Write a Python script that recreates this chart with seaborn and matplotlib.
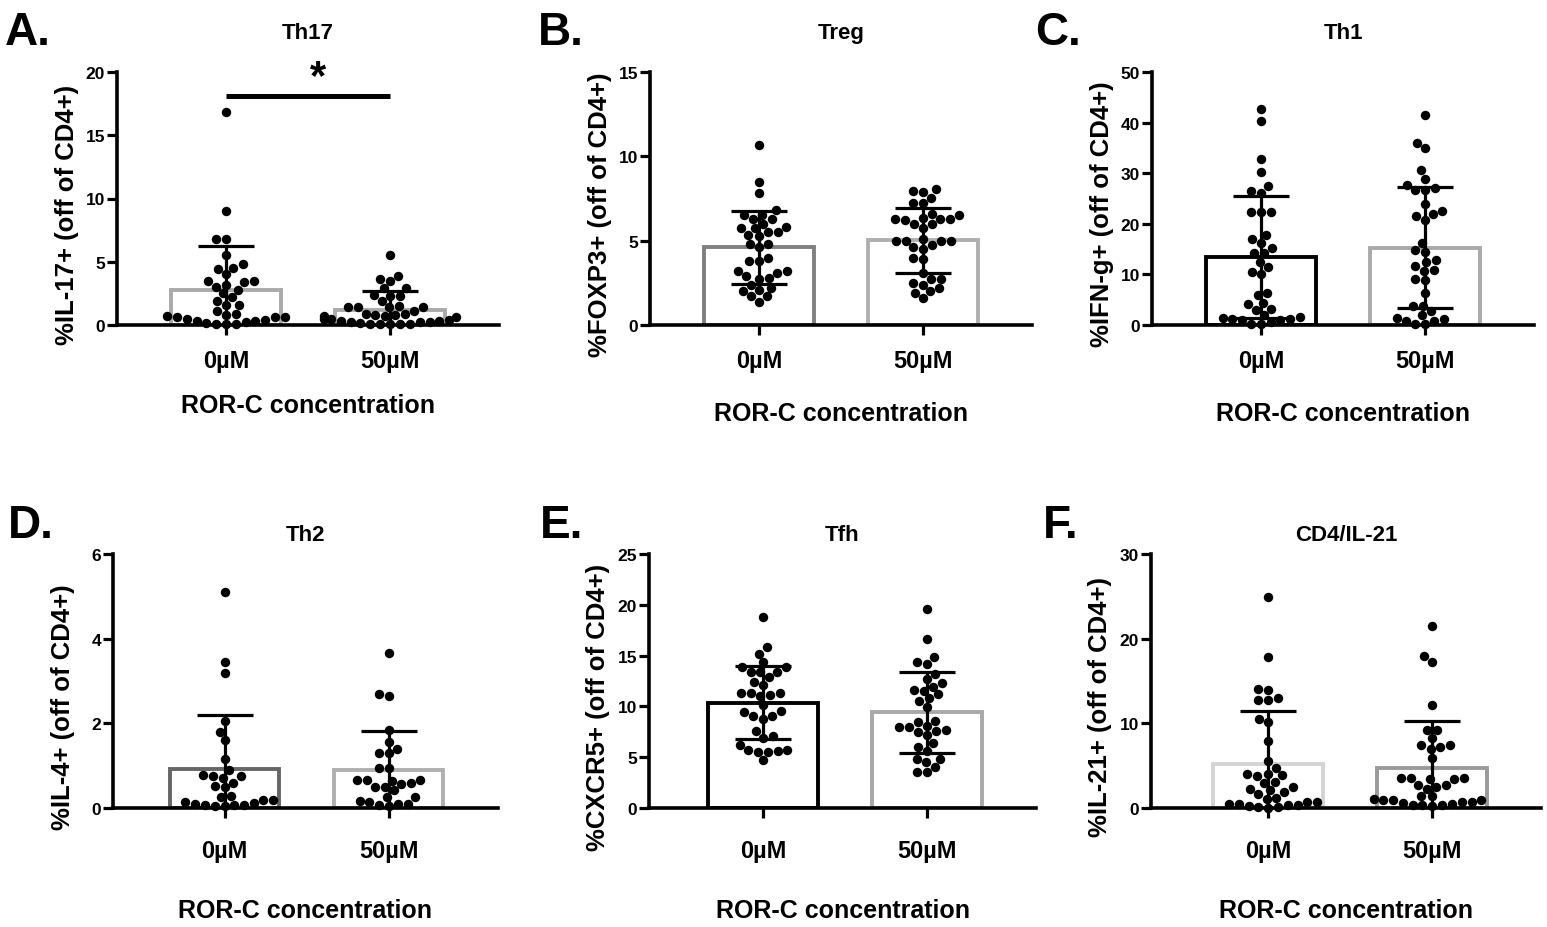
import matplotlib
matplotlib.use("Agg")
import matplotlib.pyplot as plt
import numpy as np
import pandas as pd
import seaborn as sns

sns.set_theme(style="ticks")
plt.rcParams["font.family"] = ["Liberation Sans", "DejaVu Sans"]
plt.rcParams["font.weight"] = "bold"
plt.rcParams["axes.labelweight"] = "bold"
plt.rcParams["axes.titleweight"] = "bold"
for key in ["text.color", "axes.labelcolor", "xtick.color", "ytick.color",
            "xtick.labelcolor", "ytick.labelcolor"]:
    plt.rcParams[key] = "black"

doses = ["0\u00b5M", "50\u00b5M"]

# individual samples
th17_0 = [16.8, 9.0, 6.8, 6.8, 5.5, 4.8, 4.5, 4.4, 4.0, 3.5, 3.5, 3.4, 3.2, 3.0, 2.8, 2.5,
          2.2, 1.9, 1.6, 1.6, 1.1, 0.9, 0.8, 0.7, 0.65, 0.6, 0.6, 0.5, 0.4, 0.35, 0.3, 0.2,
          0.15, 0.1, 0.1, 0.05]
th17_50 = [5.5, 3.9, 3.6, 3.5, 2.9, 2.9, 2.4, 2.3, 2.3, 1.9, 1.5, 1.4, 1.4, 1.4, 1.4, 1.1,
           0.9, 0.9, 0.8, 0.7, 0.6, 0.5, 0.4, 0.3, 0.25, 0.2, 0.15, 0.1, 0.1, 0.05, 0.05,
           0.1, 0.2, 0.3, 0.5, 0.7, 0.8]
treg_0 = [10.7, 8.45, 7.85, 6.8, 6.55, 6.55, 6.3, 6.3, 6.0, 5.8, 5.75, 5.75, 5.5, 5.5, 5.35,
          5.25, 4.8, 4.8, 4.6, 4.0, 3.8, 3.8, 3.2, 3.2, 3.1, 2.9, 2.8, 2.75, 2.4, 2.2, 2.1,
          2.0, 1.7, 1.7, 1.35]
treg_50 = [8.05, 7.95, 7.9, 7.55, 7.25, 7.25, 6.6, 6.5, 6.35, 6.3, 6.3, 6.3, 6.2, 6.0, 6.0,
           5.75, 5.1, 5.0, 5.0, 5.0, 5.0, 4.75, 4.6, 4.5, 4.0, 3.9, 3.1, 2.75, 2.75, 2.5,
           2.4, 2.2, 2.0, 1.9, 1.6]
th1_0 = [42.7, 40.4, 32.8, 30.3, 27.4, 26.4, 26.0, 22.4, 22.3, 22.3, 17.8, 17.0, 16.2, 15.2,
         14.2, 14.2, 12.5, 11.4, 10.5, 10.0, 6.4, 5.9, 4.3, 4.1, 3.2, 3.0, 1.9, 1.45, 1.1,
         0.9, 0.6, 0.1, 0.1, 0.9, 1.25, 1.6]
th1_50 = [41.5, 36.0, 34.9, 30.6, 28.9, 27.7, 27.0, 26.7, 26.7, 24.0, 22.6, 21.9, 21.6, 20.7,
          16.3, 14.8, 14.5, 12.9, 12.5, 11.7, 10.8, 10.7, 9.0, 8.85, 6.3, 3.8, 3.8, 2.8, 1.9,
          1.45, 1.1, 0.8, 0.8, 0.1, 0.1]
th2_0 = [5.1, 3.45, 3.2, 2.05, 1.8, 1.6, 1.15, 0.9, 0.75, 0.72, 0.78, 0.75, 0.6, 0.52, 0.5,
         0.28, 0.2, 0.12, 0.09, 0.06, 0.06, 0.05, 0.05, 0.08, 0.14, 0.2, 0.26]
th2_50 = [3.65, 2.7, 2.65, 1.85, 1.55, 1.4, 1.3, 1.3, 0.95, 0.95, 0.65, 0.65, 0.58, 0.5, 0.42,
          0.5, 0.57, 0.64, 0.66, 0.26, 0.14, 0.09, 0.04, 0.06, 0.1, 0.17, 0.26]
tfh_0 = [18.8, 15.8, 15.2, 14.35, 13.85, 13.85, 13.4, 13.4, 13.4, 12.9, 12.45, 12.15, 11.35,
         11.35, 11.3, 11.1, 11.0, 10.1, 9.5, 9.4, 9.1, 9.05, 8.8, 7.55, 7.1, 6.9, 6.25, 5.75,
         5.75, 5.6, 5.5, 5.5, 4.7]
tfh_50 = [19.6, 16.6, 14.85, 14.4, 14.2, 13.2, 12.7, 12.3, 11.95, 11.65, 11.55, 11.2, 10.8,
          10.5, 9.9, 8.6, 8.45, 8.1, 8.0, 7.95, 7.65, 7.55, 7.5, 7.15, 6.4, 6.05, 5.65, 4.85,
          4.85, 4.5, 4.05, 3.5, 3.5]
il21_0 = [24.9, 17.8, 14.0, 13.9, 13.0, 12.7, 12.7, 10.5, 10.2, 7.9, 5.55, 4.7, 4.05, 4.05,
          3.85, 3.8, 3.1, 3.0, 2.5, 2.3, 2.15, 1.9, 1.6, 1.2, 1.1, 0.7, 0.5, 0.3, 0.1, 0.0,
          0.1, 0.2, 0.3, 0.5, 0.7]
il21_50 = [21.5, 17.9, 17.3, 12.2, 9.25, 9.25, 8.3, 7.5, 7.4, 7.2, 7.0, 5.9, 3.55, 3.4, 3.4,
           3.55, 3.55, 2.75, 2.5, 2.7, 2.3, 1.4, 1.4, 1.1, 0.9, 0.7, 0.5, 0.3, 0.2, 0.3, 0.4,
           0.6, 0.7, 0.9, 1.0]

# bar heights (mean) and error bars (SD) as drawn
th17_mean, th17_sd = [2.8, 1.22], [3.44, 1.45]
treg_mean, treg_sd = [4.62, 5.02], [2.16, 1.91]
th1_mean, th1_sd = [13.4, 15.3], [12.0, 11.9]
th2_mean, th2_sd = [0.93, 0.9], [1.27, 0.93]
tfh_mean, tfh_sd = [10.35, 9.4], [3.6, 4.0]
il21_mean, il21_sd = [5.2, 4.7], [6.25, 5.6]

panels = [
    dict(letter="A.", title="Th17", ylabel="%IL-17+ (off of CD4+)", pts=(th17_0, th17_50),
         mean=th17_mean, sd=th17_sd, edges=["#aaaaaa", "#aaaaaa"], yticks=[0, 5, 10, 15, 20],
         axis_x=117, off=0.665, row=0, letter_x=5, xlab_y=-0.269),
    dict(letter="B.", title="Treg", ylabel="%FOXP3+ (off of CD4+)", pts=(treg_0, treg_50),
         mean=treg_mean, sd=treg_sd, edges=["#808080", "#b0b0b0"], yticks=[0, 5, 10, 15],
         axis_x=650, off=0.665, row=0, letter_x=538, xlab_y=-0.300),
    dict(letter="C.", title="Th1", ylabel="%IFN-g+ (off of CD4+)", pts=(th1_0, th1_50),
         mean=th1_mean, sd=th1_sd, edges=["#000000", "#aaaaaa"], yticks=[0, 10, 20, 30, 40, 50],
         axis_x=1152, off=0.665, row=0, letter_x=1035, xlab_y=-0.300),
    dict(letter="D.", title="Th2", ylabel="%IL-4+ (off of CD4+)", pts=(th2_0, th2_50),
         mean=th2_mean, sd=th2_sd, edges=["#666666", "#b0b0b0"], yticks=[0, 2, 4, 6],
         axis_x=113, off=0.68, row=1, letter_x=8, xlab_y=-0.356),
    dict(letter="E.", title="Tfh", ylabel="%CXCR5+ (off of CD4+)", pts=(tfh_0, tfh_50),
         mean=tfh_mean, sd=tfh_sd, edges=["#000000", "#a8a8a8"], yticks=[0, 5, 10, 15, 20, 25],
         axis_x=649, off=0.695, row=1, letter_x=540, xlab_y=-0.356),
    dict(letter="F.", title="CD4/IL-21", ylabel="%IL-21+ (off of CD4+)", pts=(il21_0, il21_50),
         mean=il21_mean, sd=il21_sd, edges=["#d4d4d4", "#9a9a9a"], yticks=[0, 10, 20, 30],
         axis_x=1151, off=0.715, row=1, letter_x=1043, xlab_y=-0.356),
]

W, H = 1547, 928
unit = 164  # pixels between the two categories
x_right = 1.665
# bottom px, height px, tick pad, title pad, ylabel y, letter baseline px
rows = {0: (326, 253, 10.4, 24.5, 0.44, 45),
        1: (809, 254, 15.0, 10.0, 0.40, 538)}

fig = plt.figure(figsize=(W / 100, H / 100), dpi=100)

for p in panels:
    bottom_px, height_px, tpad, title_pad, ylab_y, letter_y = rows[p["row"]]
    width_px = (p["off"] + x_right) * unit
    ax = fig.add_axes([p["axis_x"] / W, 1 - bottom_px / H, width_px / W, height_px / H])

    v0, v1 = p["pts"]
    df = pd.DataFrame({"dose": [doses[0]] * len(v0) + [doses[1]] * len(v1),
                       "value": v0 + v1})
    bars = pd.DataFrame({"dose": doses, "mean": p["mean"]})

    sns.barplot(data=bars, x="dose", y="mean", hue="dose", order=doses, hue_order=doses,
                palette=p["edges"], fill=False, width=0.67, linewidth=2.8,
                errorbar=None, legend=False, ax=ax)
    ax.errorbar(x=[0, 1], y=p["mean"], yerr=p["sd"], fmt="none", ecolor="black",
                elinewidth=2.3, capsize=20, capthick=2.3, zorder=3)
    n_before = len(ax.collections)
    sns.swarmplot(data=df, x="dose", y="value", order=doses, color="black", size=6.8,
                  warn_thresh=1, zorder=4, ax=ax)
    for c in ax.collections[n_before:]:
        c.set_clip_on(False)

    ax.set_xlim(-p["off"], x_right)
    ax.set_ylim(0, p["yticks"][-1])
    ax.set_yticks(p["yticks"])
    sns.despine(ax=ax)
    for s in ["left", "bottom"]:
        ax.spines[s].set_linewidth(2.6)
        ax.spines[s].set_color("black")
    ax.tick_params(axis="both", direction="out", length=7.2, width=2.3, color="black")
    ax.tick_params(axis="y", labelsize=12.5, pad=1.5)
    ax.tick_params(axis="x", labelsize=17, pad=tpad)

    ax.set_title(p["title"], fontsize=16, pad=title_pad)
    ax.set_xlabel("ROR-C concentration", fontsize=18)
    ax.xaxis.set_label_coords(0.5, p["xlab_y"])
    ax.set_ylabel(p["ylabel"], fontsize=18.5)
    ax.yaxis.set_label_coords(-0.10, ylab_y)

    fig.text(p["letter_x"] / W, 1 - letter_y / H, p["letter"], fontsize=33,
             fontweight="bold", ha="left", va="baseline")

    if p["letter"] == "A.":
        ax.plot([0, 1], [18.1, 18.1], color="black", lw=3.6, solid_capstyle="butt",
                clip_on=False)
        ax.text(0.56, 18.7, "*", fontsize=30, ha="center", va="baseline")

fig.savefig("out.png", dpi=100)
